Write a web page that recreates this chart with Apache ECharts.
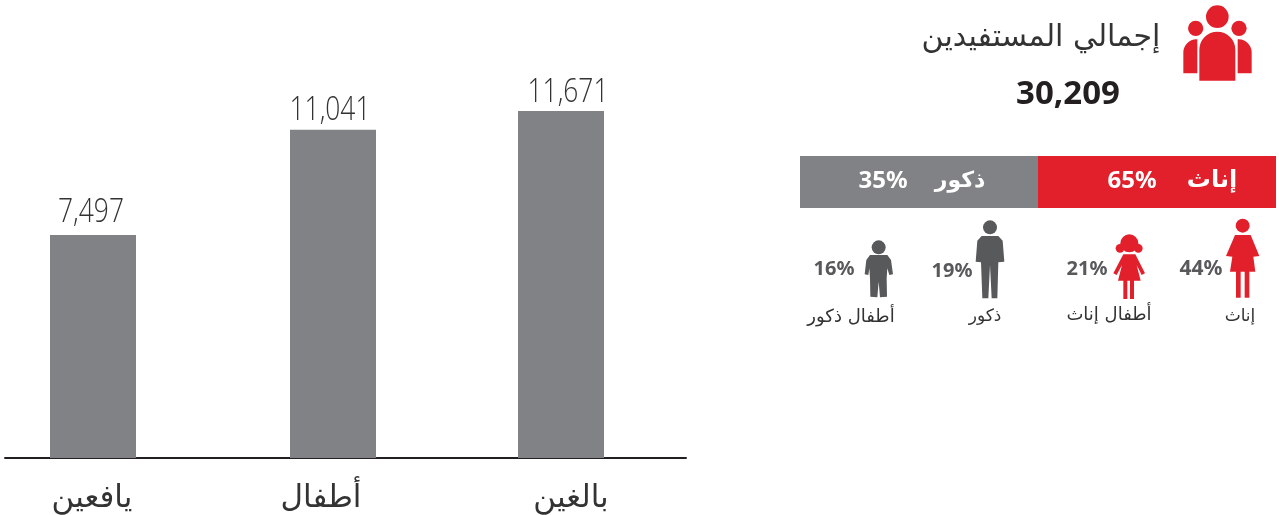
<!DOCTYPE html>
<html><head><meta charset="utf-8">
<style>html,body{margin:0;padding:0;background:#fff}#c{width:1279px;height:515px}</style>
<script src="https://cdn.jsdelivr.net/npm/echarts@6/dist/echarts.min.js"></script>
</head><body><div id="c"></div>
<script>
const categories = ['يافعين','أطفال','بالغين'];
const values = [7497,11041,11671];
const titleText = 'إجمالي المستفيدين';
const totalText = '30,209';
const femaleShare = 65, maleShare = 35;
const femaleLabel = 'إناث', maleLabel = 'ذكور';
const groups = ['إناث','أطفال إناث','ذكور','أطفال ذكور'];
const groupPct = ['44%','21%','19%','16%'];
// layout: the reference spaces its bars and labels unevenly
const barSlots = [88,328,556];
const labelSlots = [87,316,566];
const valueNudgeX = [-2,-3,7];
const valueNudgeY = [-4,-1,0];
const RED='#e2202c', GREY='#808285', DARK='#58595b';
const arabic='"DejaVu Sans",sans-serif';
const latin='"Noto Sans",sans-serif';
const z2=(p)=>p.map(([x,y])=>[790+x/3,210+y/3]);
const z1=(x,y)=>[790+x/3,y/3];
const poly=(pts,fill)=>({type:'polygon',shape:{points:z2(pts),smooth:0},style:{fill}});
const head=(x,y,r,fill)=>({type:'circle',shape:{cx:790+x/3,cy:210+y/3,r:r/3},style:{fill}});
const chart=echarts.init(document.getElementById('c'),null,{renderer:'canvas'});
const txt=(x,y,t,size,fill,weight,fam)=>({type:'text',x,y,style:{text:t,font:(weight||'normal')+' '+size+'px '+(fam||arabic),fill,align:'center',verticalAlign:'middle'}});
const gfx=[
  {type:'rect',shape:{x:800,y:156,width:238,height:52},style:{fill:GREY}},
  {type:'rect',shape:{x:1038,y:156,width:238,height:52},style:{fill:RED}},
  txt(1212,181,femaleLabel,24,'#fff','bold'),
  txt(1132,181,femaleShare+'%',24,'#fff','bold',latin),
  txt(960,181,maleLabel,22,'#fff','bold'),
  txt(883,181,maleShare+'%',24,'#fff','bold',latin),
  txt(1041,38,titleText,30,'#333'),
  txt(1068,95,totalText,33,'#231f20','bold',latin),
  txt(1240,317,groups[0],17,'#333'),
  txt(1109,315,groups[1],18,'#333'),
  txt(985,317,groups[2],17,'#333'),
  txt(851,317,groups[3],18,'#333'),
  txt(1201,269,groupPct[0],21,DARK,'bold',latin),
  txt(1087,269,groupPct[1],20,DARK,'bold',latin),
  txt(952,271,groupPct[2],20,DARK,'bold',latin),
  txt(834,269,groupPct[3],20,DARK,'bold',latin),
  head(1358,47,21,RED),
  poly([[1335,75],[1382,75],[1408,138],[1390,140],[1396,185],[1378,185],[1378,263],[1364,263],[1364,185],[1352,185],[1352,263],[1338,263],[1338,185],[1320,185],[1327,140],[1308,138]],RED),
  head(1018,100,27,RED),head(990,115,13,RED),head(1045,115,13,RED),
  poly([[1000,133],[1036,133],[1065,190],[1055,195],[1040,165],[1052,212],[1032,212],[1032,267],[1020,267],[1020,212],[1012,212],[1012,267],[1000,267],[1000,212],[984,212],[996,165],[980,195],[970,190]],RED),
  head(600,52,21,DARK),
  poly([[575,78],[625,78],[638,92],[643,155],[625,157],[622,265],[605,265],[600,165],[595,265],[577,265],[573,157],[557,155],[562,92]],DARK),
  head(266,112,21,DARK),
  poly([[240,135],[292,135],[303,150],[309,193],[298,195],[292,175],[290,205],[291,260],[270,262],[266,215],[262,262],[241,260],[240,205],[238,175],[235,195],[224,193],[229,150]],DARK),
  {type:'circle',shape:{cx:z1(1282,0)[0],cy:50/3,r:34/3},style:{fill:RED}},
  {type:'circle',shape:{cx:z1(1217,0)[0],cy:85/3,r:23/3},style:{fill:RED}},
  {type:'circle',shape:{cx:z1(1347,0)[0],cy:85/3,r:23/3},style:{fill:RED}},
  {type:'rect',shape:{x:z1(1180,0)[0],y:118/3,width:42/3,height:102/3,r:[13,0,0,0]},style:{fill:RED}},
  {type:'rect',shape:{x:z1(1343,0)[0],y:118/3,width:42/3,height:102/3,r:[0,13,0,0]},style:{fill:RED}},
  {type:'rect',shape:{x:z1(1228,0)[0],y:95/3,width:108/3,height:147/3,r:[18,18,0,0]},style:{fill:RED}},
];
const points=values.map((v,i)=>[barSlots[i],v]);
chart.setOption({
  animation:false,
  textStyle:{fontFamily:arabic},
  grid:{left:5,top:0,width:681,height:458,outerBoundsMode:'none',containLabel:false},
  xAxis:{type:'value',min:0,max:681,splitLine:{show:false},
    axisLine:{show:true,onZero:false,lineStyle:{color:'#231f20',width:2}},axisTick:{show:false},
    axisLabel:{customValues:labelSlots,formatter:v=>categories[labelSlots.indexOf(v)],fontSize:31,color:'#333',margin:25,fontFamily:arabic}},
  yAxis:{type:'value',min:0,max:15400,show:false,splitLine:{show:false}},
  series:[
    {type:'bar',data:points,barWidth:86,itemStyle:{color:GREY}},
    {type:'custom',data:points,silent:true,z:5,renderItem:(params,api)=>{
      const p=api.coord([api.value(0),api.value(1)]);
      const i=params.dataIndex;
      return {type:'text',x:p[0]+valueNudgeX[i],y:p[1]-2+valueNudgeY[i],scaleX:0.8,style:{text:api.value(1).toLocaleString('en-US'),font:'300 33px "Open Sans",sans-serif',fill:'#333',align:'center',verticalAlign:'bottom'}};
    }}
  ],
  graphic:{elements:gfx}
});
</script></body></html>
